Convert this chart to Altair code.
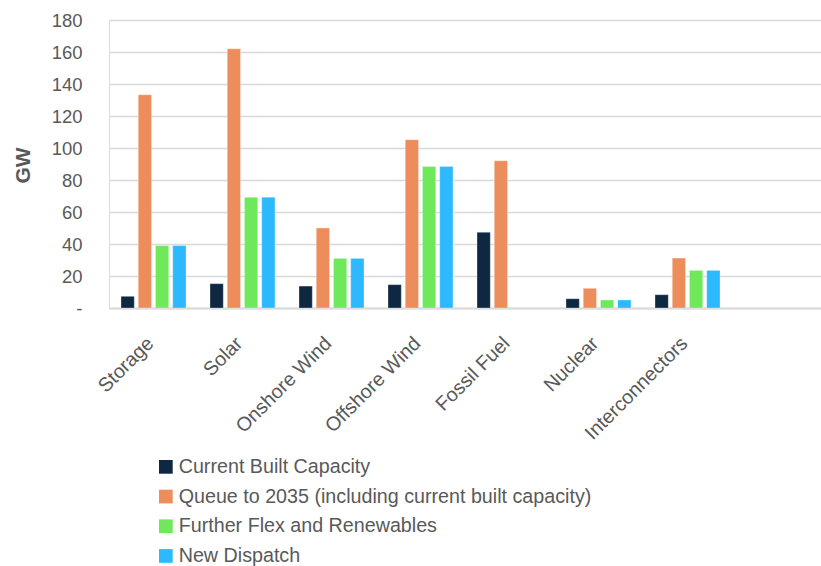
import altair as alt
import pandas as pd

categories = ["Storage", "Solar", "Onshore Wind", "Offshore Wind", "Fossil Fuel", "Nuclear", "Interconnectors"]
series = [
    "Current Built Capacity",
    "Queue to 2035 (including current built capacity)",
    "Further Flex and Renewables",
    "New Dispatch",
]
current_built = [7.3, 15.2, 13.7, 14.6, 47.3, 5.8, 8.3]
queue_2035 = [133.3, 162.0, 50.0, 105.2, 92.0, 12.3, 31.2]
further_flex = [39.0, 69.2, 31.0, 88.5, None, 5.0, 23.5]
new_dispatch = [39.0, 69.2, 31.0, 88.5, None, 5.0, 23.5]
colors = ["#0e2841", "#ee8d5c", "#6fe85c", "#2db9fe"]

rows = []
for s, vals in zip(series, [current_built, queue_2035, further_flex, new_dispatch]):
    for c, v in zip(categories, vals):
        if v is not None:
            rows.append({"category": c, "series": s, "value": v})
df = pd.DataFrame(rows)

font = "Liberation Sans"
grey = "#595959"

chart = alt.Chart(df).mark_bar(stroke="#ffffff", strokeWidth=0.6, strokeOpacity=0.5).encode(
    x=alt.X(
        "category:N",
        sort=categories,
        scale=alt.Scale(domain=categories + [" "], paddingInner=0.27, paddingOuter=0.135),
        axis=alt.Axis(
            title=None,
            labelAngle=-45,
            labelAlign="right",
            labelBaseline="middle",
            labelPadding=32,
            labelOffset=-3,
            labelFontSize=19.7,
            labelColor=grey,
            labelFont=font,
            ticks=False,
            domainColor="#d9d9d9",
            domainWidth=2,
        ),
    ),
    xOffset=alt.XOffset("series:N", sort=series, scale=alt.Scale(domain=series, paddingInner=0.23, paddingOuter=0)),
    y=alt.Y(
        "value:Q",
        scale=alt.Scale(domain=[0, 180], nice=False),
        axis=alt.Axis(
            title="GW",
            titleFont=font,
            titleFontSize=21,
            titleFontWeight="bold",
            titleColor=grey,
            titleAngle=-90,
            titleX=-86,
            titleY=145,
            titleAlign="center",
            titleBaseline="middle",
            values=list(range(0, 181, 20)),
            labelExpr="datum.value == 0 ? '-\u00a0\u00a0\u00a0' : datum.label",
            labelFontSize=18.5,
            labelColor=grey,
            labelFont=font,
            labelPadding=27,
            ticks=False,
            domain=False,
            gridColor="#d9d9d9",
            gridWidth=1.5,
        ),
    ),
    color=alt.Color(
        "series:N",
        sort=series,
        scale=alt.Scale(domain=series, range=colors),
        legend=alt.Legend(
            title=None,
            orient="none",
            legendX=50,
            legendY=437,
            symbolType="square",
            symbolSize=188,
            symbolStrokeWidth=0,
            symbolOffset=-3,
            labelFontSize=19.7,
            labelFont=font,
            labelColor=grey,
            labelOffset=3,
            rowPadding=8.7,
            padding=0,
            labelLimit=600,
        ),
    ),
).properties(
    width=712,
    height=288,
    padding={"left": 109, "top": 20, "right": 0, "bottom": 258},
    autosize=alt.AutoSizeParams(type="none"),
).configure_view(stroke=None).configure(background="white")

chart.save("out.html", embed_options={"renderer": "svg", "actions": False})
